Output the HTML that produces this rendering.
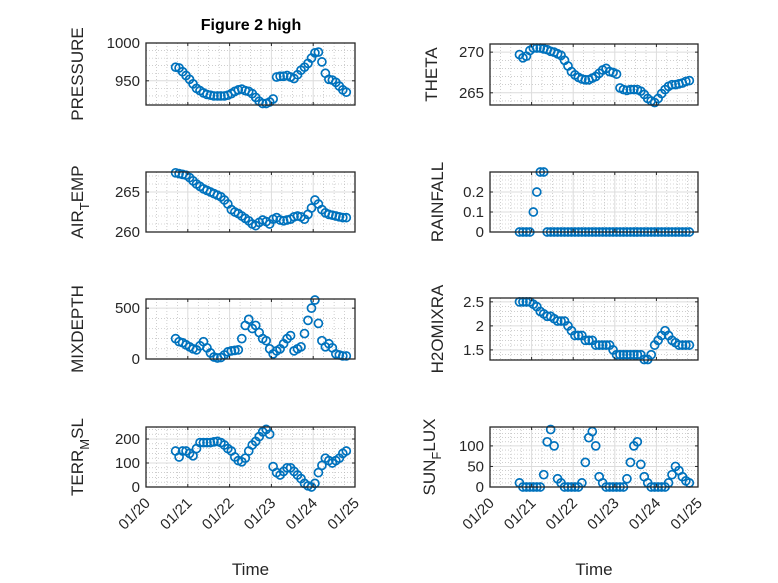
<!DOCTYPE html>
<html><head><meta charset="utf-8"><style>
html,body{margin:0;padding:0;background:#fff;}
svg{display:block;font-family:"Liberation Sans","DejaVu Sans",sans-serif;}
</style></head><body>
<svg id="fig" width="778" height="583" viewBox="0 0 778 583">
<rect width="778" height="583" fill="#fff"/>
<text x="251" y="30" text-anchor="middle" font-size="16" font-weight="bold" fill="#000">Figure 2 high</text>
</svg>
<script>
const hours=[17,19,21,23,25,27,29,31,33,35,37,39,41,43,45,47,49,51,53,55,57,59,61,63,65,67,69,71,73,75,77,79,81,83,85,87,89,91,93,95,97,99,101,103,105,107,109,111,113,115];
const xTickLabels=["01/20","01/21","01/22","01/23","01/24","01/25"];
const pressure=[968,967,962,957,952,946,940,937,934,932,931,930,930,930,930,931,933,936,938,939,937,936,933,928,923,920,920,922,926,955,956,956,957,955,953,958,964,968,973,980,987,988,975,960,952,951,948,943,938,935];
const airTemp=[267.4,267.3,267.2,267.1,266.8,266.4,266.0,265.7,265.4,265.2,265.0,264.8,264.6,264.4,264.0,263.5,262.8,262.5,262.3,262.0,261.7,261.4,261.0,260.8,261.2,261.5,261.3,261.0,261.6,261.8,261.5,261.4,261.5,261.6,261.9,262.0,261.9,261.6,262.2,263.0,264.0,263.5,262.8,262.4,262.2,262.1,262.0,261.9,261.8,261.8];
const mixDepth=[200,170,160,140,120,100,90,130,170,110,60,20,10,15,40,70,80,85,90,200,330,390,300,330,260,200,180,100,50,80,100,150,200,230,80,100,120,250,380,500,580,350,180,120,150,110,50,40,30,30];
const terrMsl=[150,125,150,150,140,130,160,185,185,185,185,188,190,185,175,160,150,125,110,105,120,150,175,190,210,230,240,220,85,60,50,65,80,80,65,50,35,15,5,0,15,60,90,120,110,100,110,120,140,150];
const theta=[269.7,269.3,269.5,270.2,270.5,270.5,270.5,270.4,270.3,270.1,270.0,269.8,269.6,269.0,268.3,267.6,267.2,266.9,266.7,266.6,266.6,266.8,267.0,267.4,267.8,268.0,267.6,267.5,267.3,265.6,265.4,265.3,265.4,265.4,265.4,265.2,264.8,264.3,264.0,263.8,264.3,264.9,265.4,265.8,266.0,266.0,266.1,266.2,266.4,266.5];
const rainfall=[0,0,0,0,0.1,0.2,0.3,0.3,0,0,0,0,0,0,0,0,0,0,0,0,0,0,0,0,0,0,0,0,0,0,0,0,0,0,0,0,0,0,0,0,0,0,0,0,0,0,0,0,0,0];
const h2oMix=[2.5,2.5,2.5,2.5,2.45,2.4,2.3,2.25,2.2,2.2,2.15,2.1,2.1,2.1,2.0,1.9,1.8,1.8,1.8,1.7,1.7,1.7,1.6,1.6,1.6,1.6,1.6,1.5,1.4,1.4,1.4,1.4,1.4,1.4,1.4,1.4,1.3,1.3,1.4,1.6,1.7,1.8,1.9,1.8,1.7,1.65,1.6,1.6,1.6,1.6];
const sunFlux=[10,0,0,0,0,0,0,30,110,140,100,20,10,0,0,0,0,0,10,60,120,135,100,25,10,0,0,0,0,0,0,20,60,100,110,55,25,10,0,0,0,0,0,10,30,50,40,25,15,10];

const NS="http://www.w3.org/2000/svg";
const svg=document.getElementById('fig');
function mk(tag,attrs,parent){const e=document.createElementNS(NS,tag);for(const k in attrs)e.setAttribute(k,attrs[k]);(parent||svg).appendChild(e);return e;}

const panels=[
 {name:"pressure",data:pressure,x0:146,x1:355,y0:43,y1:105,lo:918,hi:1000,ticks:[950,1000],tl:["950","1000"],minor:10,label:["PRESSURE"],lx:78,bottom:false},
 {name:"air-temp",data:airTemp,x0:146,x1:355,y0:172,y1:232,lo:260,hi:267.5,ticks:[260,265],tl:["260","265"],minor:1,label:["AIR","T","EMP"],lx:78,bottom:false},
 {name:"mixdepth",data:mixDepth,x0:146,x1:355,y0:299,y1:359,lo:0,hi:590,ticks:[0,500],tl:["0","500"],minor:100,label:["MIXDEPTH"],lx:78,bottom:false},
 {name:"terr-msl",data:terrMsl,x0:146,x1:355,y0:427,y1:487,lo:0,hi:250,ticks:[0,100,200],tl:["0","100","200"],minor:20,label:["TERR","M","SL"],lx:78,bottom:true},
 {name:"theta",data:theta,x0:490,x1:698,y0:44,y1:105,lo:263.5,hi:271,ticks:[265,270],tl:["265","270"],minor:1,label:["THETA"],lx:432,bottom:false},
 {name:"rainfall",data:rainfall,x0:490,x1:698,y0:172,y1:232,lo:0,hi:0.3,ticks:[0,0.1,0.2],tl:["0","0.1","0.2"],minor:0.02,label:["RAINFALL"],lx:438,bottom:false},
 {name:"h2omixra",data:h2oMix,x0:490,x1:698,y0:298,y1:360,lo:1.29,hi:2.58,ticks:[1.5,2,2.5],tl:["1.5","2","2.5"],minor:0.1,label:["H2OMIXRA"],lx:438,bottom:false},
 {name:"sun-flux",data:sunFlux,x0:490,x1:698,y0:427,y1:487,lo:0,hi:146,ticks:[0,50,100],tl:["0","50","100"],minor:10,label:["SUN","F","LUX"],lx:430,bottom:true}
];

panels.forEach(p=>{
 const g=mk('g',{});
 
 
 const X=d=>p.x0+(d/5)*(p.x1-p.x0);
 const Y=v=>p.y1-(v-p.lo)/(p.hi-p.lo)*(p.y1-p.y0);
 for(let d=0.25;d<5;d+=0.25){ if(Math.abs(d-Math.round(d))<1e-6)continue;
  mk('line',{x1:X(d),x2:X(d),y1:p.y0,y2:p.y1,stroke:'#b0b0b0','stroke-width':0.6,'stroke-dasharray':'1,2'},g);}
 const start=Math.ceil(p.lo/p.minor)*p.minor;
 for(let v=start;v<=p.hi+1e-9;v+=p.minor){
  if(p.ticks.some(t=>Math.abs(t-v)<1e-6))continue;
  mk('line',{x1:p.x0,x2:p.x1,y1:Y(v),y2:Y(v),stroke:'#b0b0b0','stroke-width':0.6,'stroke-dasharray':'1,2'},g);}
 for(let d=1;d<5;d++) mk('line',{x1:X(d),x2:X(d),y1:p.y0,y2:p.y1,stroke:'#dcdcdc','stroke-width':1},g);
 p.ticks.forEach(v=>mk('line',{x1:p.x0,x2:p.x1,y1:Y(v),y2:Y(v),stroke:'#dcdcdc','stroke-width':1},g));
 const s=mk('g',{fill:'none',stroke:'#0072BD','stroke-width':1.7},g);
 
 
 p.data.forEach((v,i)=>{
  const c=mk('circle',{cx:X(hours[i]/24),cy:Y(v),r:4},s);
  
  
 });
 const b=mk('rect',{x:p.x0,y:p.y0,width:p.x1-p.x0,height:p.y1-p.y0,fill:'none',stroke:'#262626','stroke-width':1.3},g);
 
 
 for(let d=0;d<=5;d++){
  mk('line',{x1:X(d),x2:X(d),y1:p.y1,y2:p.y1-3,stroke:'#262626','stroke-width':1},g);
  mk('line',{x1:X(d),x2:X(d),y1:p.y0,y2:p.y0+3,stroke:'#262626','stroke-width':1},g);
  if(p.bottom){
   const tx=X(d)+5, ty=p.y1+17;
   const t=mk('text',{x:tx,y:ty,'text-anchor':'end','font-size':15,fill:'#262626',transform:`rotate(-45 ${tx} ${ty})`},g);
   t.textContent=xTickLabels[d];
   
   
  }
 }
 p.ticks.forEach((v,i)=>{
  mk('line',{x1:p.x0,x2:p.x0+3,y1:Y(v),y2:Y(v),stroke:'#262626','stroke-width':1},g);
  mk('line',{x1:p.x1,x2:p.x1-3,y1:Y(v),y2:Y(v),stroke:'#262626','stroke-width':1},g);
  const t=mk('text',{x:p.x0-6,y:Y(v)+5,'text-anchor':'end','font-size':15,fill:'#262626'},g);
  t.textContent=p.tl[i];
  
  
 });
 const cy=(p.y0+p.y1)/2;
 const yl=mk('text',{x:p.lx,y:cy,'text-anchor':'middle','font-size':17,fill:'#262626',transform:`rotate(-90 ${p.lx} ${cy})`,dy:'5'},g);
 
 
 if(p.label.length===1){yl.textContent=p.label[0];}
 else{
  const a=mk('tspan',{},yl);a.textContent=p.label[0];
  const b2=mk('tspan',{'font-size':13,dy:6},yl);b2.textContent=p.label[1];
  const c2=mk('tspan',{dy:-6},yl);c2.textContent=p.label[2];
 }
 if(p.bottom){
  const xl=mk('text',{x:(p.x0+p.x1)/2,y:575,'text-anchor':'middle','font-size':17,fill:'#262626'},g);
  xl.textContent='Time';
  
  
 }
});
</script>
</body></html>
